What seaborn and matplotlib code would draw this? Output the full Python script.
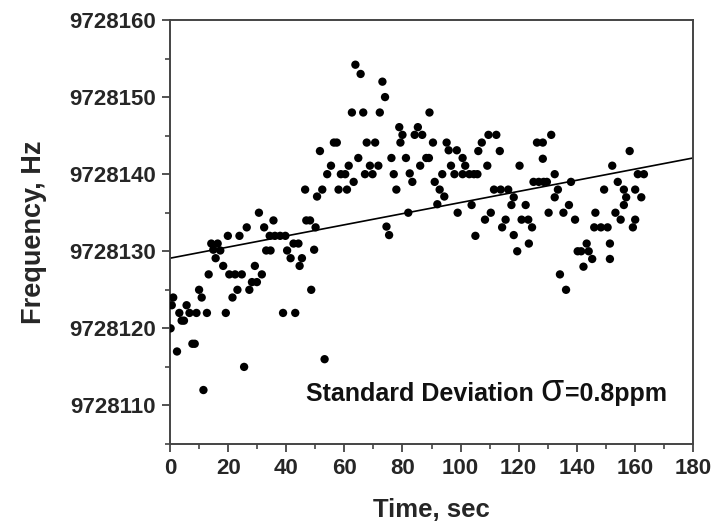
import numpy as np
import pandas as pd
import matplotlib
matplotlib.use("Agg")
import matplotlib.pyplot as plt
from matplotlib.ticker import MultipleLocator, FuncFormatter
import seaborn as sns

# measured frequency points (time in s, frequency in Hz)
time_sec = [
    0.2, 0.6, 1.1, 2.4, 3.2, 4.0, 4.8, 5.7, 6.7, 7.7, 8.5, 9.1, 10.0, 10.9, 11.5, 12.7,
    13.3, 14.2, 14.9, 15.7, 16.4, 17.3, 18.3, 19.2, 19.9, 20.4, 21.5, 22.4, 23.2, 23.9,
    24.7, 25.5, 26.4, 27.3, 28.2, 29.2, 29.9, 30.6, 31.6, 32.4, 33.1, 34.3, 34.6, 35.6,
    36.1, 37.9, 39.7, 38.9, 40.3, 41.5, 42.5, 43.1, 44.2, 44.6, 45.4, 46.5, 46.9, 48.2,
    48.6, 49.6, 50.1, 50.6, 51.6, 52.4, 53.2,
    54.1, 55.4, 56.4, 57.4, 58.0, 58.8, 60.3, 60.9, 61.5, 62.6, 63.2, 63.8, 64.8, 65.6,
    66.5, 67.1, 67.7, 68.8, 69.7, 70.6, 71.7, 72.2, 73.1, 74.0, 74.5, 75.4, 76.2, 77.0,
    77.9, 78.9, 79.3, 80.0, 81.2, 82.0, 82.5, 83.4, 84.2, 85.3, 86.1, 86.8, 88.2, 89.1,
    89.3, 90.5, 91.1, 92.0, 92.8, 93.7, 94.4, 95.2, 95.9, 96.7, 97.9, 98.7, 99.0, 100.7,
    100.7, 101.6, 103.0, 103.8, 104.6, 105.1, 105.8, 106.1, 107.3, 108.4, 109.2, 109.6,
    110.4, 111.5, 112.3, 113.5, 113.8, 114.3, 115.5, 116.4, 117.5, 118.3, 118.3, 119.5,
    120.3, 121.0, 122.4, 123.3, 123.5, 124.6, 125.1, 126.3, 126.9, 128.3, 128.3, 128.6,
    129.7, 130.3, 131.2, 132.4, 132.4, 133.5, 134.2, 135.4, 136.3, 137.3, 138.0, 139.4,
    140.3, 141.5, 142.3, 143.4, 144.1, 145.3, 146.0, 146.4, 148.3, 149.4, 150.6, 151.4,
    151.4, 152.2, 153.3, 154.1, 155.1, 156.2, 156.2, 157.0, 158.2, 159.3, 160.1, 160.1,
    161.0, 162.2, 163.1,
]
freq_hz = [
    9728120.0, 9728123.0, 9728124.0, 9728117.0, 9728122.0, 9728121.0, 9728121.0, 9728123.0,
    9728122.0, 9728118.0, 9728118.0, 9728122.0, 9728125.0, 9728124.0, 9728112.0, 9728122.0,
    9728127.0, 9728131.0, 9728130.2, 9728129.1, 9728131.0, 9728130.1, 9728128.1, 9728122.0,
    9728132.0, 9728127.0, 9728124.0, 9728127.0, 9728125.0, 9728132.0, 9728127.0, 9728115.0,
    9728133.1, 9728125.0, 9728126.0, 9728128.1, 9728126.0, 9728135.0, 9728127.0, 9728133.1,
    9728130.1, 9728132.0, 9728130.1, 9728134.0, 9728132.0, 9728132.0, 9728132.0, 9728122.0,
    9728130.1, 9728129.1, 9728131.0, 9728122.0, 9728131.0, 9728128.1, 9728129.1, 9728138.0,
    9728134.0, 9728134.0, 9728125.0, 9728130.2, 9728133.1, 9728137.1, 9728143.0, 9728138.0,
    9728116.0,
    9728140.0, 9728141.1, 9728144.1, 9728144.1, 9728138.0, 9728140.0, 9728140.0, 9728138.0,
    9728141.1, 9728148.0, 9728139.0, 9728154.2, 9728142.1, 9728153.0, 9728148.0, 9728140.0,
    9728144.1, 9728141.1, 9728140.0, 9728144.1, 9728141.1, 9728148.0, 9728152.0, 9728150.0,
    9728133.2, 9728132.1, 9728142.1, 9728140.0, 9728138.0, 9728146.1, 9728144.1, 9728145.1,
    9728142.1, 9728135.0, 9728140.1, 9728139.0, 9728145.1, 9728146.1, 9728141.1, 9728145.1,
    9728142.1, 9728142.1, 9728148.0, 9728144.1, 9728139.0, 9728136.1, 9728138.0, 9728140.0,
    9728137.1, 9728144.1, 9728143.1, 9728141.1, 9728140.0, 9728143.1, 9728135.0, 9728142.1,
    9728140.0, 9728141.1, 9728140.0, 9728136.0, 9728140.0, 9728132.0, 9728140.0, 9728143.0,
    9728144.1, 9728134.1, 9728141.1, 9728145.1, 9728135.0, 9728138.0, 9728145.1, 9728143.0,
    9728138.0, 9728133.1, 9728134.1, 9728138.0, 9728136.0, 9728137.0, 9728132.1, 9728130.0,
    9728141.1, 9728134.1, 9728136.0, 9728134.1, 9728131.0, 9728133.1, 9728139.0, 9728144.1,
    9728139.0, 9728144.1, 9728142.0, 9728139.0, 9728139.0, 9728135.0, 9728145.1, 9728140.0,
    9728137.0, 9728138.0, 9728127.0, 9728135.0, 9728125.0, 9728136.0, 9728139.0, 9728134.1,
    9728130.0, 9728130.0, 9728128.0, 9728131.0, 9728130.0, 9728129.0, 9728133.1, 9728135.0,
    9728133.1, 9728138.0, 9728133.1, 9728131.0, 9728129.0, 9728141.1, 9728135.0, 9728139.0,
    9728134.1, 9728138.0, 9728136.0, 9728137.0, 9728143.0, 9728133.1, 9728138.0, 9728134.1,
    9728140.0, 9728137.0, 9728140.0,
]

# linear fit line end points
fit_time = [0, 180]
fit_freq = [9728129.1, 9728142.1]

sns.set_theme(style="ticks")
plt.rcParams["font.family"] = ["Liberation Sans", "DejaVu Sans"]
plt.rcParams["font.weight"] = "bold"

df = pd.DataFrame({"time": time_sec, "freq": freq_hz})
fit = pd.DataFrame({"time": fit_time, "freq": fit_freq})

fig = plt.figure(figsize=(7.18, 5.29), dpi=100)
ax = fig.add_axes([0.2368, 0.1607, 0.7284, 0.8015])

sns.lineplot(data=fit, x="time", y="freq", color="black", linewidth=1.2, ax=ax)
sns.scatterplot(data=df, x="time", y="freq", color="black", s=36,
                edgecolor="none", ax=ax, zorder=3)

ax.set_xlim(0, 180)
ax.set_ylim(9728105, 9728160)
ax.xaxis.set_major_locator(MultipleLocator(20))
ax.xaxis.set_minor_locator(MultipleLocator(10))
ax.yaxis.set_major_locator(MultipleLocator(10))
ax.yaxis.set_minor_locator(MultipleLocator(5))
ax.yaxis.set_major_formatter(FuncFormatter(lambda v, p: f"{v:.0f}"))

for side in ["left", "right", "top", "bottom"]:
    ax.spines[side].set_visible(True)
    ax.spines[side].set_color("#444444")
    ax.spines[side].set_linewidth(1.4)
ax.tick_params(which="major", direction="out", length=6, width=1.3,
               color="#444444", labelsize=16, pad=4)
ax.tick_params(which="minor", direction="out", length=3.5, width=1.2,
               color="#444444")
for lab in ax.get_xticklabels() + ax.get_yticklabels():
    lab.set_fontweight("bold")

ax.set_xlabel("Time, sec", fontsize=18.5, fontweight="bold", labelpad=14)
ax.set_ylabel("Frequency, Hz", fontsize=19.5, fontweight="bold", labelpad=16)

# annotation, the sigma drawn larger as in the original
t1 = ax.text(0.26, 0.09, "Standard Deviation ", transform=ax.transAxes,
             fontsize=18, fontweight="bold", ha="left", va="bottom", color="#111111")
t2 = ax.annotate("σ", xy=(1, 0), xycoords=t1, xytext=(0, -2), textcoords="offset points",
                 fontsize=27, fontweight="normal", ha="left", va="bottom", color="#111111")
ax.annotate("=0.8ppm", xy=(1, 0), xycoords=t2, xytext=(1, 2), textcoords="offset points",
            fontsize=18, fontweight="bold", ha="left", va="bottom", color="#111111")

plt.savefig("out.png", dpi=100)
plt.close()
